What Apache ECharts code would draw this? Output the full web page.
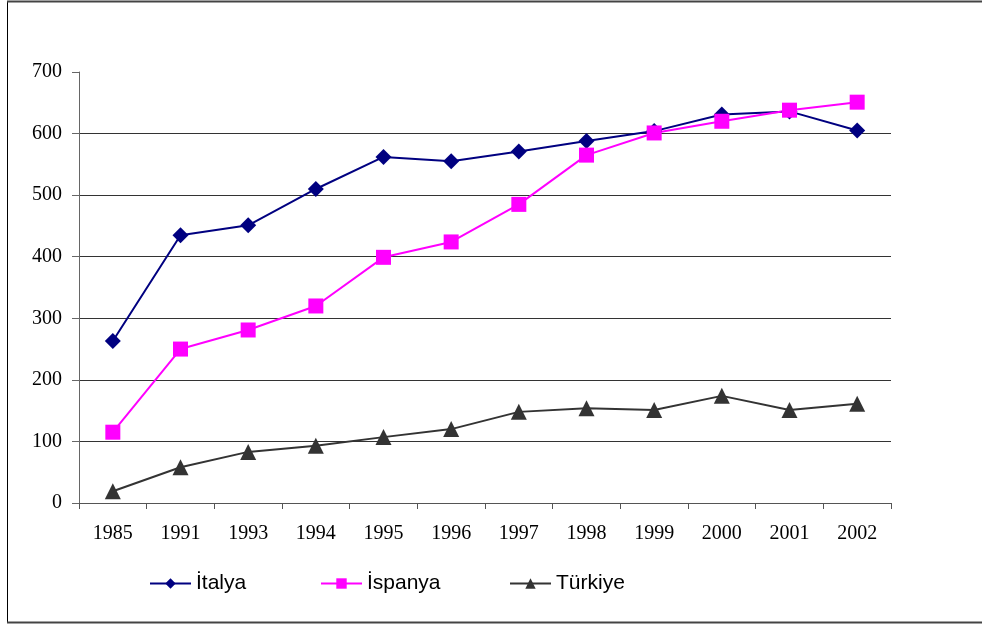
<!DOCTYPE html>
<html>
<head>
<meta charset="utf-8">
<script src="https://cdn.jsdelivr.net/npm/echarts@6/dist/echarts.min.js"></script>
<style>html,body{margin:0;padding:0;background:#fff;}#c{width:982px;height:624px;}</style>
</head>
<body>
<div id="c"></div>
<script>
var years = ['1985','1991','1993','1994','1995','1996','1997','1998','1999','2000','2001','2002'];
var italya = [263, 435, 451, 510, 562, 555, 571, 588, 604, 631, 636, 605];
var ispanya = [115, 250, 281, 320, 399, 424, 485, 565, 601, 620, 638, 651];
var turkiye = [19, 58, 83, 93, 107, 120, 148, 154, 151, 174, 151, 161];
var seriesNames = ['İtalya', 'İspanya', 'Türkiye'];

var chart = echarts.init(document.getElementById('c'), null, {renderer: 'canvas'});
function mk(name, data, color, symbol, size) {
  return {
    name: name, type: 'line', data: data,
    symbol: symbol, symbolSize: size,
    itemStyle: {color: color},
    lineStyle: {color: color, width: 2},
    emphasis: {disabled: true},
    animation: false
  };
}
var legendLefts = [149, 320, 509];
var legends = seriesNames.map(function(n, i){
  return {
    data: [n], left: legendLefts[i], bottom: 30, padding: 0,
    itemWidth: 41, itemHeight: 13, itemGap: 0,
    textStyle: {fontFamily: 'Liberation Sans', fontSize: 21, color: '#000'}
  };
});
chart.setOption({
  animation: false,
  graphic: [{
    type: 'line', shape: {x1: 7.5, y1: 1, x2: 7.5, y2: 623}, style: {stroke: '#000', lineWidth: 1}
  }, {
    type: 'line', shape: {x1: 7, y1: 1.5, x2: 982, y2: 1.5}, style: {stroke: '#444', lineWidth: 2}
  }, {
    type: 'line', shape: {x1: 7, y1: 622.5, x2: 982, y2: 622.5}, style: {stroke: '#444', lineWidth: 2}
  }],
  grid: {left: 79, right: 91, top: 72, bottom: 121, containLabel: false},
  legend: legends,
  xAxis: {
    type: 'category', data: years, boundaryGap: true,
    axisLine: {lineStyle: {color: '#555', width: 1}},
    axisTick: {show: true, length: 6, lineStyle: {color: '#555'}},
    axisLabel: {fontFamily: 'Liberation Serif', fontSize: 20, color: '#000', margin: 21, interval: 0},
    splitLine: {show: false}
  },
  yAxis: {
    type: 'value', min: 0, max: 700, interval: 100,
    axisLine: {show: true, lineStyle: {color: '#666', width: 1}},
    axisTick: {show: true, length: 7, lineStyle: {color: '#666'}},
    axisLabel: {fontFamily: 'Liberation Serif', fontSize: 20, color: '#000', margin: 17},
    splitLine: {show: true, showMaxLine: false, lineStyle: {color: '#333', width: 1}}
  },
  series: [
    mk('İtalya', italya, '#000080', 'diamond', 16),
    mk('İspanya', ispanya, '#ff00ff', 'rect', 15),
    mk('Türkiye', turkiye, '#333333', 'triangle', 16)
  ]
});
</script>
</body>
</html>
